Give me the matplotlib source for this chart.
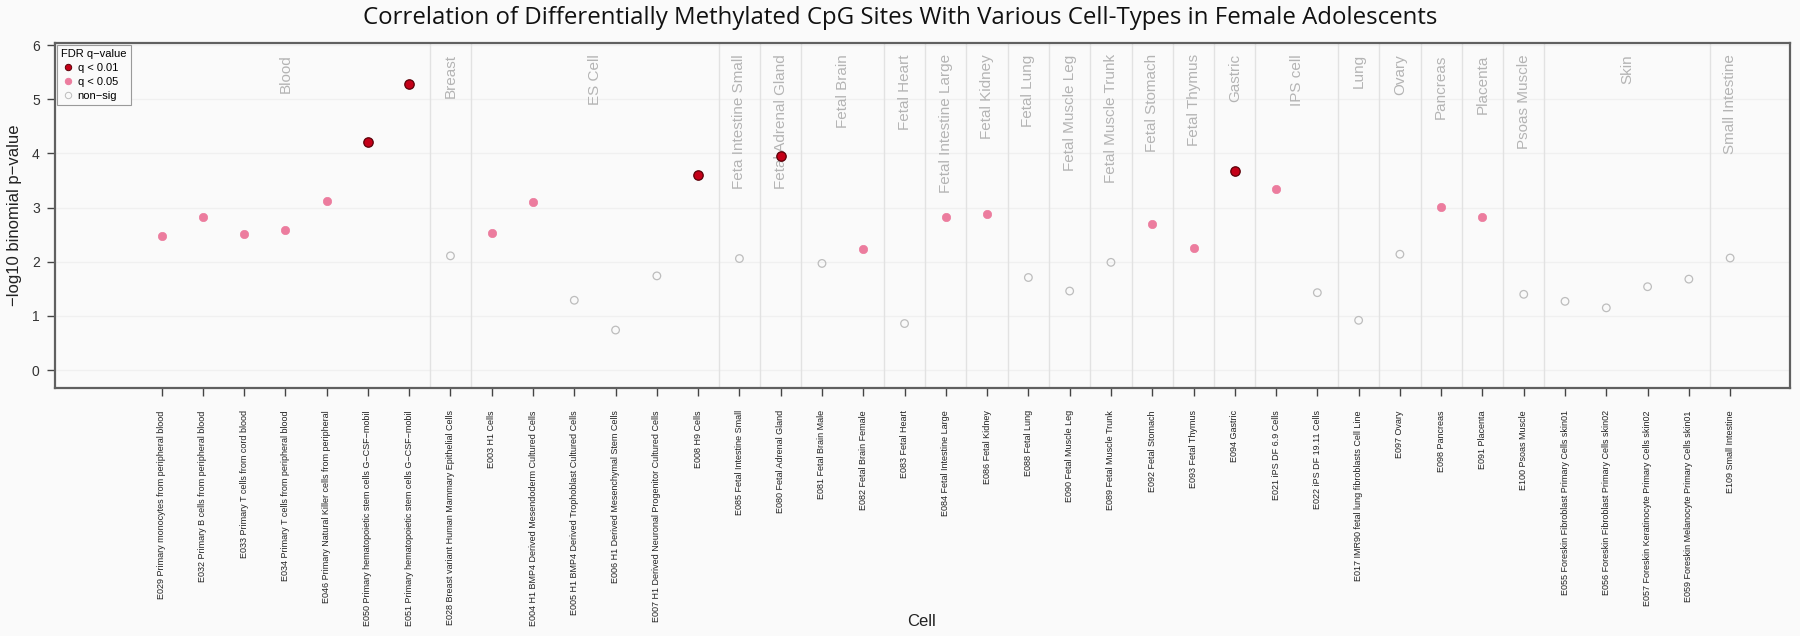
import matplotlib
matplotlib.use("Agg")
import matplotlib.pyplot as plt
from matplotlib.lines import Line2D

# ---------------- data ----------------
groups = ["Blood", "Breast", "ES Cell", "Feta Intestine Small", "Fetal Adrenal Gland",
          "Fetal Brain", "Fetal Heart", "Fetal Intestine Large", "Fetal Kidney",
          "Fetal Lung", "Fetal Muscle Leg", "Fetal Muscle Trunk", "Fetal Stomach",
          "Fetal Thymus", "Gastric", "IPS cell", "Lung", "Ovary", "Pancreas",
          "Placenta", "Psoas Muscle", "Skin", "Small Intestine"]
group_sizes = [7, 1, 6, 1, 1, 2, 1, 1, 1, 1, 1, 1, 1, 1, 1, 2, 1, 1, 1, 1, 1, 4, 1]

cells = [
    "E029 Primary monocytes from peripheral blood",
    "E032 Primary B cells from peripheral blood",
    "E033 Primary T cells from cord blood",
    "E034 Primary T cells from peripheral blood",
    "E046 Primary Natural Killer cells from peripheral",
    "E050 Primary hematopoietic stem cells G\u2212CSF\u2212mobil",
    "E051 Primary hematopoietic stem cells G\u2212CSF\u2212mobil",
    "E028 Breast variant Human Mammary Epithelial Cells",
    "E003 H1 Cells",
    "E004 H1 BMP4 Derived Mesendoderm Cultured Cells",
    "E005 H1 BMP4 Derived Trophoblast Cultured Cells",
    "E006 H1 Derived Mesenchymal Stem Cells",
    "E007 H1 Derived Neuronal Progenitor Cultured Cells",
    "E008 H9 Cells",
    "E085 Fetal Intestine Small",
    "E080 Fetal Adrenal Gland",
    "E081 Fetal Brain Male",
    "E082 Fetal Brain Female",
    "E083 Fetal Heart",
    "E084 Fetal Intestine Large",
    "E086 Fetal Kidney",
    "E088 Fetal Lung",
    "E090 Fetal Muscle Leg",
    "E089 Fetal Muscle Trunk",
    "E092 Fetal Stomach",
    "E093 Fetal Thymus",
    "E094 Gastric",
    "E021 iPS DF 6.9 Cells",
    "E022 iPS DF 19.11 Cells",
    "E017 IMR90 fetal lung fibroblasts Cell Line",
    "E097 Ovary",
    "E098 Pancreas",
    "E091 Placenta",
    "E100 Psoas Muscle",
    "E055 Foreskin Fibroblast Primary Cells skin01",
    "E056 Foreskin Fibroblast Primary Cells skin02",
    "E057 Foreskin Keratinocyte Primary Cells skin02",
    "E059 Foreskin Melanocyte Primary Cells skin01",
    "E109 Small Intestine",
]

values = [2.47, 2.83, 2.52, 2.59, 3.13, 4.22, 5.29,
          2.11,
          2.54, 3.11, 1.29, 0.74, 1.74, 3.61,
          2.06,
          3.96,
          1.97, 2.23,
          0.86,
          2.82,
          2.88,
          1.71,
          1.46,
          1.99,
          2.70,
          2.25,
          3.67,
          3.35, 1.43,
          0.92,
          2.14,
          3.01,
          2.82,
          1.40,
          1.27, 1.15, 1.54, 1.68,
          2.07]

significance = ["q05", "q05", "q05", "q05", "q05", "q01", "q01",
                "ns",
                "q05", "q05", "ns", "ns", "ns", "q01",
                "ns",
                "q01",
                "ns", "q05",
                "ns",
                "q05",
                "q05",
                "ns",
                "ns",
                "ns",
                "q05",
                "q05",
                "q01",
                "q05", "ns",
                "ns",
                "ns",
                "q05",
                "q05",
                "ns",
                "ns", "ns", "ns", "ns",
                "ns"]

legend_labels = {"q01": "q < 0.01", "q05": "q < 0.05", "ns": "non\u2212sig"}

# ---------------- style ----------------
W, H = 1800, 636
DPI = 100
BG = "#FAFAFA"
styles = {
    "q01": dict(marker="o", s=46, facecolor="#C40018", edgecolor="#5A0008", linewidths=0.9),
    "q05": dict(marker="o", s=36, facecolor="#EC7C9E", edgecolor="#EC7C9E", linewidths=0.5),
    "ns": dict(marker="o", s=30, facecolor="none", edgecolor="#BDBDBD", linewidths=0.9),
}

fig = plt.figure(figsize=(W / DPI, H / DPI), dpi=DPI, facecolor=BG)
ax = fig.add_axes([55 / W, 1 - 388 / H, (1790 - 55) / W, (388 - 43) / H])
ax.set_facecolor(BG)

x = list(range(len(cells)))
ax.set_xlim(-2.58, 39.45)
ax.set_ylim(-0.33, 6.04)

# faint horizontal grid
for yv in range(0, 7):
    ax.axhline(yv, color="#F0F0F0", lw=0.9, zorder=0)

# group separators and labels
start = 0
for g, n in zip(groups, group_sizes):
    end = start + n
    if end < len(cells):
        ax.axvline(end - 0.5, color="#E2E2E2", lw=1.0, zorder=1)
    center = (start + end - 1) / 2
    ax.text(center, 5.83, g, rotation=90, ha="center", va="top",
            fontsize=11, color="#B4B4B4", family="Liberation Sans", zorder=2)
    start = end

# points
for cat in ["ns", "q05", "q01"]:
    xs = [xi for xi, c in zip(x, significance) if c == cat]
    ys = [v for v, c in zip(values, significance) if c == cat]
    ax.scatter(xs, ys, zorder=4, **styles[cat])

# axes styling
for sp in ax.spines.values():
    sp.set_color("#606060")
    sp.set_linewidth(1.6)

ax.set_xticks(x)
ax.set_xticklabels(cells, rotation=90, fontsize=6.5, family="Liberation Sans",
                   color="#222222", va="top")
ax.set_yticks(range(0, 7))
ax.set_yticklabels([str(i) for i in range(0, 7)], fontsize=10, family="Liberation Sans",
                   color="#333333")
ax.tick_params(axis="x", length=6, width=1.0, color="#444444", pad=10)
ax.tick_params(axis="y", length=6, width=1.0, color="#444444", pad=5)

ax.set_ylabel("\u2212log10 binomial p\u2212value", fontsize=12, family="Liberation Sans",
              color="#222222", labelpad=7)
fig.text(921 / W, 1 - 622 / H, "Cell", ha="center", va="center", fontsize=12,
         family="Liberation Sans", color="#222222")

fig.text(0.5, 1 - 18 / H,
         "Correlation of Differentially Methylated CpG Sites With Various Cell-Types in Female Adolescents",
         ha="center", va="center", fontsize=17.3, family="Open Sans", color="#111111")

# legend
handles = []
for cat in ["q01", "q05", "ns"]:
    st = styles[cat]
    handles.append(Line2D([0], [0], linestyle="none", marker="o", markersize=4.6,
                          markerfacecolor=st["facecolor"], markeredgecolor=st["edgecolor"],
                          markeredgewidth=0.7, label=legend_labels[cat]))
leg = ax.legend(handles=handles, title="FDR q\u2212value", loc="upper left",
                bbox_to_anchor=(0.0, 1.0), borderaxespad=0.15,
                prop={"family": "Liberation Sans", "size": 8},
                title_fontproperties={"family": "Liberation Sans", "size": 8},
                fancybox=False, framealpha=1.0, edgecolor="#9A9A9A",
                handletextpad=0.3, labelspacing=0.35, borderpad=0.4,
                handlelength=1.2, alignment="left")
leg.get_frame().set_linewidth(0.8)
leg.get_frame().set_facecolor(BG)

fig.savefig("out.png", dpi=DPI, facecolor=BG)
